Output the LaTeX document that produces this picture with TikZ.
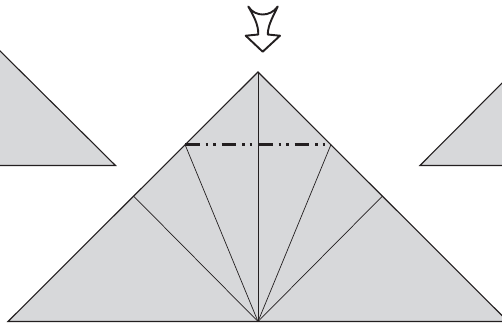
\documentclass[tikz,border=0pt]{standalone}
\begin{document}
\begin{tikzpicture}[x=1bp,y=-1bp,
  paper/.style={fill=paperfill,draw=edgeink,line width=1.1bp,line join=miter},
  crease/.style={draw=edgeink,line width=0.7bp},
  foldline/.style={draw=edgeink,line width=2.3bp,dash pattern=on 14.5bp off 6bp on 2.5bp off 5bp on 2.5bp off 6bp},
  arrowmark/.style={draw=edgeink,fill=white,line width=1.9bp,line join=round}]
\definecolor{paperfill}{HTML}{D7D8DA}
\definecolor{edgeink}{HTML}{231F20}
\useasboundingbox (0,0) rectangle (502,327);
\clip (0,0) rectangle (502,327);
\coordinate (apex) at (258,72);
\coordinate (base) at (258,321.5);
\coordinate (bl) at (8,321.5);
\coordinate (br) at (508,321.5);
\coordinate (fl) at (185,144.5);
\coordinate (fr) at (331,144.5);
\coordinate (ml) at (133.5,196);
\coordinate (mr) at (382.5,196);
% side flaps
\draw[paper] (-10,41) -- (115.5,165.5) -- (-10,165.5) -- cycle;
\draw[paper] (512,73) -- (420,165.5) -- (512,165.5) -- cycle;
% main triangle
\draw[paper] (apex) -- (br) -- (bl) -- cycle;
\draw[crease] (apex) -- (base);
\draw[crease] (fl) -- (base);
\draw[crease] (fr) -- (base);
\draw[crease] (ml) -- (base);
\draw[crease] (mr) -- (base);
\draw[foldline] (fl) -- (fr);
% arrow
\draw[arrowmark] (248.3,6.5) .. controls (252,12.5) and (258,14.5) .. (262.7,14.5)
  .. controls (268,14.5) and (274,12) .. (277.7,6.5)
  .. controls (274,15) and (268,24) .. (267.7,34.5)
  -- (280,35.7) -- (262.7,51.7) -- (245.7,35.7) -- (258.3,34.5)
  .. controls (258.5,24) and (253,15) .. cycle;
\end{tikzpicture}
\end{document}
